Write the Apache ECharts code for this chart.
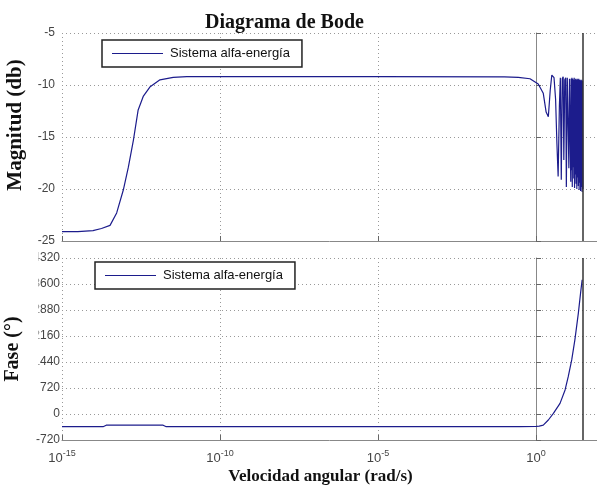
<!DOCTYPE html>
<html>
<head>
<meta charset="utf-8">
<script src="https://cdn.jsdelivr.net/npm/echarts@6/dist/echarts.min.js"></script>
<style>html,body{margin:0;padding:0;background:#fff}#c{width:597px;height:487px}</style>
</head>
<body>
<div id="c"></div>
<script>
// x values are log10 of angular velocity (rad/s)
const magX = [-15, -14.5, -14.02, -13.75, -13.48, -13.27, -13.06, -12.90, -12.74, -12.59, -12.43, -12.22, -11.90, -11.48, -11.05, -10, -5, -1.0, -0.56, -0.19, 0.07, 0.23, 0.32, 0.39, 0.45, 0.50, 0.57, 0.62, 0.66, 0.70, 0.74, 0.77, 0.80, 0.83, 0.86, 0.88, 0.91, 0.94, 0.96, 0.99, 1.02, 1.04, 1.06, 1.08,
  1.100, 1.112, 1.124, 1.136, 1.148, 1.160, 1.172, 1.184, 1.196, 1.208, 1.220, 1.232, 1.244, 1.256, 1.268, 1.280, 1.292, 1.304, 1.316, 1.328, 1.340, 1.352, 1.364, 1.376, 1.388, 1.400, 1.412, 1.424, 1.436, 1.448, 1.460, 1.472, 1.485];
const magY = [-24.1, -24.1, -24.0, -23.8, -23.5, -22.3, -20.1, -17.9, -15.3, -12.4, -11.1, -10.2, -9.5, -9.26, -9.2, -9.2, -9.2, -9.22, -9.26, -9.4, -9.9, -10.8, -12.6, -13.05, -10.5, -9.04, -9.3, -11.4, -15.5, -18.8, -12.0, -9.3, -19.1, -9.4, -9.2, -17.2, -9.5, -9.3, -19.8, -9.3, -9.3, -18.0, -9.4, -9.3,
  -19.3, -9.4, -18.2, -9.3, -19.8, -9.4, -17.9, -9.5, -19.0, -9.3, -19.9, -9.5, -18.6, -9.4, -19.5, -9.5, -20.0, -9.4, -18.9, -9.5, -19.7, -9.4, -20.1, -9.5, -19.4, -9.5, -20.2, -9.6, -19.8, -9.5, -20.3, -9.6, -20.0];

const phaseX = [-15, -13.7, -13.6, -11.8, -11.7, -5, -0.5, 0.0, 0.1, 0.23, 0.39, 0.55, 0.76, 0.92, 1.02, 1.13, 1.23, 1.34, 1.41, 1.46];
const phaseY = [-352, -352, -310, -310, -352, -352, -352, -345, -335, -310, -166, 18, 295, 665, 1035, 1498, 2053, 2792, 3347, 3717];

const magTicks = [-25, -20, -15, -10, -5];
const phaseTicks = [-720, 0, 720, 1440, 2160, 2880, 3600, 4320];
const xTickExps = [-15, -10, -5, 0];
const xMin = -15, xMax = 1.93;
const edgeLineX = 1.49;

const seriesName = 'Sistema alfa-energía';
const lineColor = '#1c1c8c';

function pairs(xs, ys){ return xs.map((x,i)=>[x, ys[i]]); }

const serif = '"Liberation Serif","Times New Roman",serif';
const sans = '"Liberation Sans",Arial,sans-serif';

function xAxisCfg(gi, showLabels){
  return {
    type:'value', gridIndex:gi, min:xMin, max:xMax, interval:5,
    axisLine:{show:true, onZero:false, lineStyle:{color:'#888', width:1}},
    axisTick:{show:true, inside:true, length:5, lineStyle:{color:'#666'}},
    splitLine:{show:true, lineStyle:{type:[1,3], color:'#999'}},
    axisLabel:{
      show:showLabels, margin:9, color:'#444', fontFamily:sans,
      formatter:(v)=> xTickExps.indexOf(v) >= 0 ? '{b|10}{s|' + v + '}' : '',
      rich:{ b:{fontSize:13, fontFamily:sans, color:'#444'}, s:{fontSize:9, fontFamily:sans, color:'#444', padding:[0,0,9,0]} }
    },
    name: showLabels ? 'Velocidad angular (rad/s)' : '',
    nameLocation:'middle', nameGap:28,
    nameTextStyle:{fontFamily:serif, fontWeight:'bold', fontSize:17, color:'#111', padding:[0,18,0,0]}
  };
}
function yAxisCfg(gi, ticks, name, margin, nameSize, namePad){
  return {
    type:'value', gridIndex:gi, min:ticks[0], max:ticks[ticks.length-1], interval:ticks[1]-ticks[0],
    axisLine:{show:true, lineStyle:{color:'#888', width:1}},
    axisTick:{show:true, inside:true, length:5, lineStyle:{color:'#666'}},
    splitLine:{show:true, lineStyle:{type:[1,3], color:'#999'}},
    axisLabel:{show:true, margin:margin, color:'#444', fontFamily:sans, fontSize:12, formatter:(v)=>String(v)},
    name:name, nameLocation:'middle', nameGap:36,
    nameTextStyle:{fontFamily:serif, fontWeight:'bold', fontSize:nameSize, color:'#111', padding:namePad}
  };
}
function legendCfg(left, top){
  return {
    left:left, top:top, data:[seriesName], icon:'rect',
    borderColor:'#222', borderWidth:1.5, backgroundColor:'#fff',
    padding:[7,12,7,10], itemWidth:51, itemHeight:1.2, itemGap:0,
    textStyle:{fontFamily:sans, fontSize:13, color:'#111', padding:[0,0,0,2]},
    selectedMode:false
  };
}
function markCfg(){
  return {silent:true, symbol:'none', label:{show:false},
    lineStyle:{type:'solid', color:'#333', width:1.5}, data:[{xAxis:edgeLineX}]};
}

const chart = echarts.init(document.getElementById('c'), null, {renderer:'canvas'});
chart.setOption({
  animation:false,
  backgroundColor:'#fff',
  title:{text:'Diagrama de Bode', left:200, top:8,
    textStyle:{fontFamily:serif, fontWeight:'bold', fontSize:20, color:'#111'}},
  grid:[
    {left:62, top:33, height:208, right:0, containLabel:false, outerBoundsMode:'none'},
    {left:62, top:258, height:182, right:0, containLabel:false, outerBoundsMode:'none'}
  ],
  xAxis:[xAxisCfg(0,false), xAxisCfg(1,true)],
  yAxis:[yAxisCfg(0, magTicks, 'Magnitud (db)', 7, 21, [0,0,0,24]), yAxisCfg(1, phaseTicks, 'Fase (°)', 2, 20, [0,0,0,0])],
  legend:[legendCfg(102,40), legendCfg(95,262)],
  graphic:[
    // the reference's phase tick labels are cut at their left edge
    {type:'rect', left:27, top:250, z:100, silent:true,
      shape:{width:11.5, height:182}, style:{fill:'#fff'}}
  ],
  series:[
    {name:seriesName, type:'line', xAxisIndex:0, yAxisIndex:0, data:pairs(magX, magY),
      symbol:'none', lineStyle:{color:lineColor, width:1.2}, itemStyle:{color:lineColor}, markLine:markCfg()},
    {name:seriesName, type:'line', xAxisIndex:1, yAxisIndex:1, data:pairs(phaseX, phaseY),
      symbol:'none', lineStyle:{color:lineColor, width:1.2}, itemStyle:{color:lineColor}, markLine:markCfg()}
  ]
});
</script>
</body>
</html>
